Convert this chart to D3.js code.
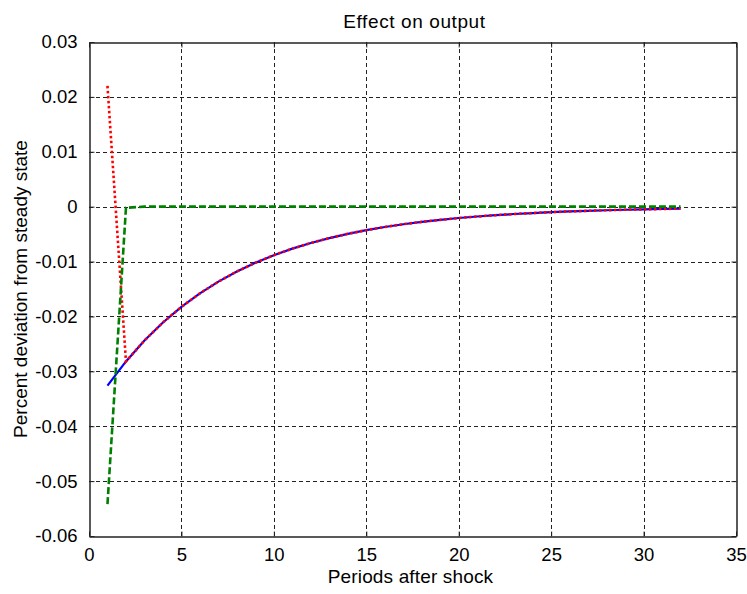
<!DOCTYPE html>
<html>
<head>
<meta charset="utf-8">
<script src="https://cdn.jsdelivr.net/npm/d3@7"></script>
<style>
  html, body { margin: 0; padding: 0; background: #fff; }
  svg { display: block; }
  text { font-family: "Liberation Sans", Arial, Helvetica, sans-serif; fill: #000; }
</style>
</head>
<body>
<svg id="chart" width="747" height="594"></svg>
<script>
// Impulse responses of output, periods 1..32
const periods = d3.range(1, 33);

// Blue solid response
const responseBlue = [
  -0.0326, -0.0282, -0.02439, -0.02110, -0.01825, -0.01579, -0.01366, -0.01181,
  -0.01022, -0.00884, -0.00764, -0.00661, -0.00572, -0.00495, -0.00428, -0.00370,
  -0.00320, -0.00277, -0.00240, -0.00207, -0.00179, -0.00155, -0.00134, -0.00116,
  -0.00100, -0.00087, -0.00075, -0.00065, -0.00056, -0.00049, -0.00042, -0.00036
];

// Red dotted response
const responseRed = [
  0.0220, -0.0282, -0.02439, -0.02110, -0.01825, -0.01579, -0.01366, -0.01181,
  -0.01022, -0.00884, -0.00764, -0.00661, -0.00572, -0.00495, -0.00428, -0.00370,
  -0.00320, -0.00277, -0.00240, -0.00207, -0.00179, -0.00155, -0.00134, -0.00116,
  -0.00100, -0.00087, -0.00075, -0.00065, -0.00056, -0.00049, -0.00042, -0.00036
];

// Green dashed response
const responseGreen = [
  -0.0542, -0.0002, 0, 0, 0, 0, 0, 0, 0, 0, 0, 0, 0, 0, 0, 0,
  0, 0, 0, 0, 0, 0, 0, 0, 0, 0, 0, 0, 0, 0, 0, 0
];

const xTicks = [0, 5, 10, 15, 20, 25, 30, 35];
const yTicks = [-0.06, -0.05, -0.04, -0.03, -0.02, -0.01, 0, 0.01, 0.02, 0.03];

const titleText = "Effect on output";
const xLabelText = "Periods after shock";
const yLabelText = "Percent deviation from steady state";

const margin = { left: 89, top: 42, right: 736, bottom: 536 };

const svg = d3.select("#chart");

const x = d3.scaleLinear().domain([0, 35]).range([margin.left, margin.right]);
const y = d3.scaleLinear().domain([-0.06, 0.03]).range([margin.bottom, margin.top]);

// Grid lines
const grid = svg.append("g").attr("class", "grid");
grid.selectAll("line.vx")
  .data(xTicks.slice(1, -1))
  .join("line")
  .attr("x1", d => Math.round(x(d)) + 0.5)
  .attr("x2", d => Math.round(x(d)) + 0.5)
  .attr("y1", margin.top)
  .attr("y2", margin.bottom)
  .attr("stroke", "#222")
  .attr("stroke-width", 1)
  .attr("stroke-dasharray", "4,3");
grid.selectAll("line.hy")
  .data(yTicks.slice(1, -1))
  .join("line")
  .attr("x1", margin.left)
  .attr("x2", margin.right)
  .attr("y1", d => Math.round(y(d)) + 0.5)
  .attr("y2", d => Math.round(y(d)) + 0.5)
  .attr("stroke", "#222")
  .attr("stroke-width", 1)
  .attr("stroke-dasharray", "4,3");

// Axes with inward ticks
const fmtY = d => d === 0 ? "0" : d3.format(".2f")(d).replace("−", "-");

const xAxis = svg.append("g")
  .attr("transform", `translate(0,${margin.bottom + 0.5})`)
  .call(d3.axisBottom(x).tickValues(xTicks).tickSizeInner(-5).tickSizeOuter(0).tickPadding(11).tickFormat(d3.format("d")));
const xAxisTop = svg.append("g")
  .attr("transform", `translate(0,${margin.top + 0.5})`)
  .call(d3.axisTop(x).tickValues(xTicks).tickSizeInner(-5).tickSizeOuter(0).tickFormat(""));
const yAxis = svg.append("g")
  .attr("transform", `translate(${margin.left + 0.5},0)`)
  .call(d3.axisLeft(y).tickValues(yTicks).tickSizeInner(-5).tickSizeOuter(0).tickPadding(12).tickFormat(fmtY));
const yAxisRight = svg.append("g")
  .attr("transform", `translate(${margin.right + 0.5},0)`)
  .call(d3.axisRight(y).tickValues(yTicks).tickSizeInner(-5).tickSizeOuter(0).tickFormat(""));

[xAxis, xAxisTop, yAxis, yAxisRight].forEach(g => {
  g.select(".domain").attr("stroke", "#222").attr("stroke-width", 1.5);
  g.selectAll(".tick line").attr("stroke", "#222");
  g.selectAll("text")
    .attr("font-family", "'Liberation Sans', Arial, sans-serif")
    .attr("font-size", 18.5)
    .attr("fill", "#111");
});

// Response lines
const line = vals => d3.line()
  .x((d, i) => x(periods[i]))
  .y(d => y(d))(vals);

svg.append("path")
  .attr("d", line(responseBlue))
  .attr("fill", "none")
  .attr("stroke", "#0000ff")
  .attr("stroke-width", 2.2);

svg.append("path")
  .attr("d", line(responseRed))
  .attr("fill", "none")
  .attr("stroke", "#ff0000")
  .attr("stroke-width", 2.6)
  .attr("stroke-dasharray", "2.5,2.5");

svg.append("path")
  .attr("d", line(responseGreen))
  .attr("fill", "none")
  .attr("stroke", "#008000")
  .attr("stroke-width", 2.6)
  .attr("stroke-dasharray", "7,3");

// Labels
svg.append("text")
  .attr("x", (margin.left + margin.right) / 2 + 2)
  .attr("y", 28)
  .attr("text-anchor", "middle")
  .attr("font-size", 19)
  .attr("letter-spacing", 0.6)
  .text(titleText);

svg.append("text")
  .attr("x", (margin.left + margin.right) / 2 - 2)
  .attr("y", 583)
  .attr("text-anchor", "middle")
  .attr("font-size", 19)
  .attr("letter-spacing", 0.15)
  .text(xLabelText);

svg.append("text")
  .attr("transform", `translate(26.5,${(margin.top + margin.bottom) / 2}) rotate(-90)`)
  .attr("text-anchor", "middle")
  .attr("font-size", 19)
  .text(yLabelText);
</script>
</body>
</html>
